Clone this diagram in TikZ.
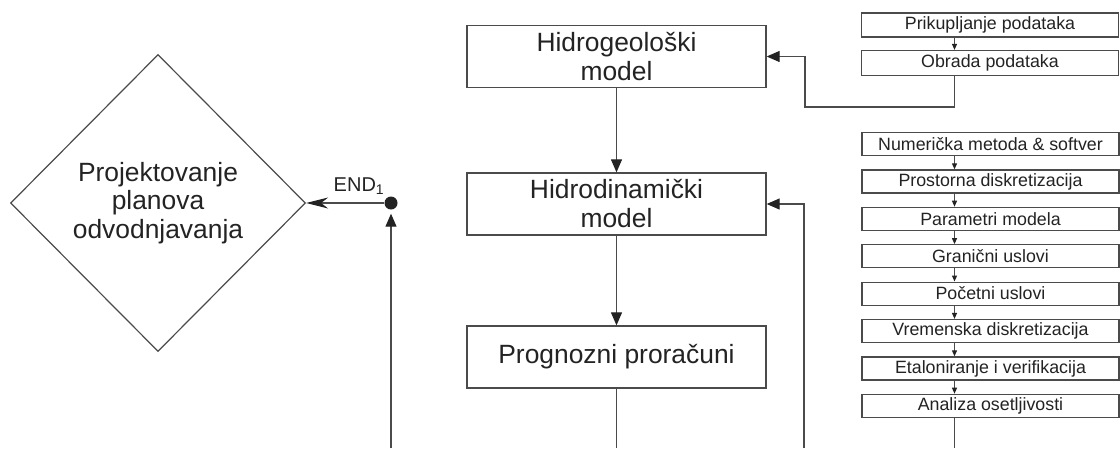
\documentclass[tikz,border=0pt]{standalone}
\usepackage{fontspec}
\setmainfont{Liberation Sans}
\usetikzlibrary{arrows.meta,shapes.geometric}
\definecolor{ln}{RGB}{75,75,75}
\definecolor{tx}{RGB}{35,35,35}
\begin{document}
\begin{tikzpicture}[x=1pt,y=-1pt,
  every node/.style={text=tx},
  bigbox/.style={draw=ln, line width=1.3pt, fill=white, minimum width=299pt, minimum height=62pt, inner sep=0pt, align=center, font=\fontsize{26.4}{29}\selectfont},
  smallbox/.style={draw=ln, line width=1.2pt, fill=white, minimum width=257pt, minimum height=23pt, inner sep=0pt, font=\fontsize{17.8}{19}\selectfont},
  conn/.style={draw=ln, line width=1.2pt},
  bigarrow/.style={conn, -{Triangle[length=13pt,width=11pt,color=tx]}},
  smallarrow/.style={conn, -{Triangle[length=6pt,width=5pt,color=tx]}},
]
\useasboundingbox (0,0) rectangle (1120,448);

% diamond and end point
\node[diamond, draw=ln, line width=1.2pt, minimum width=295pt, minimum height=297pt, inner sep=0pt, align=center, font=\fontsize{26.4}{28.5}\selectfont] (proj) at (158,203) {Projektovanje\\planova\\odvodnjavanja};
\node[circle, fill=tx, inner sep=0pt, minimum size=13pt] (dot) at (391,203) {};
\node[font=\fontsize{20}{22}\selectfont, inner sep=0pt] (endl) at (359,186) {END\textsubscript{1}};
\draw[conn, -{Stealth[length=22pt,width=11pt,inset=7pt,color=tx]}] (dot) -- (proj.east);
\coordinate (b1) at (391,448);
\draw[bigarrow, shorten >=4pt] (b1) -- (dot.south);

% main column
\node[bigbox] (hg) at (616.5,56.5) {Hidrogeološki\\model};
\node[bigbox] (hd) at (616.5,204) {Hidrodinamički\\model};
\node[bigbox] (pp) at (616.5,357) {Prognozni proračuni};
\draw[bigarrow] (hg) -- (hd);
\draw[bigarrow] (hd) -- (pp);
\coordinate (b2) at (616.5,448);
\draw[conn] (pp) -- (b2);

% top right boxes
\coordinate (cx) at (954.5,0);
\node[smallbox, minimum height=24pt] (prik) at (990,25) {Prikupljanje podataka};
\node[smallbox, minimum height=25pt] (obr) at (990,63) {Obrada podataka};
\draw[smallarrow] (prik.south -| cx) -- (obr.north -| cx);
\coordinate (t1) at (954.5,107);
\coordinate (t2) at (805,107);
\draw[bigarrow] (obr.south -| cx) -- (t1) -- (t2) |- (hg.east);

% right column
\foreach \i/\t in {1/{Numerička metoda \& softver},2/{Prostorna diskretizacija},3/{Parametri modela},4/{Granični uslovi},5/{Početni uslovi},6/{Vremenska diskretizacija},7/{Etaloniranje i verifikacija},8/{Analiza osetljivosti}}{
  \node[smallbox] (n\i) at (990.5,{144+37.4*(\i-1)}) {\t};
}
\foreach \i [evaluate=\i as \j using int(\i+1)] in {1,...,7}{
  \draw[smallarrow] (n\i.south -| cx) -- (n\j.north -| cx);
}
\coordinate (b4) at (954.5,448);
\draw[conn] (n8.south -| cx) -- (b4);
\coordinate (b3) at (804,448);
\draw[bigarrow] (b3) |- (hd.east);
\end{tikzpicture}
\end{document}
